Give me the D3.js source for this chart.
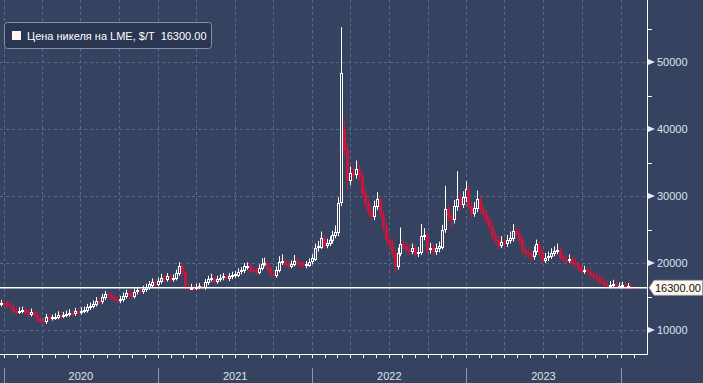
<!DOCTYPE html>
<html>
<head>
<meta charset="utf-8">
<script src="https://cdn.jsdelivr.net/npm/d3@7"></script>
<style>
  body { margin: 0; background: #354361; }
  text { font-family: "Liberation Sans", Arial, sans-serif; }
</style>
</head>
<body>
<div id="chart"></div>
<script>
// weekly LME nickel candles, first week ending 27 Dec 2019
var firstWeek = new Date(2019, 11, 27);

var opens = [
  13900,14100,14000,13700,13500,12900,12800,12900,13000,12700,12400,12700,12300,
  11600,11400,11300,11900,11800,11900,12000,12300,12200,12300,12400,12600,12500,
  12800,12700,12900,13000,13400,13600,13900,14400,14300,14900,15300,15200,14900,
  14600,14400,14600,15100,15500,15400,15100,15700,15900,15800,16100,16400,16800,
  17200,16900,17300,17800,17600,18000,17700,17800,18500,19500,18600,16400,16200,
  16300,16200,16400,16500,16400,17100,17600,17800,17300,17600,17800,18000,17700,
  18000,18200,18300,18700,18900,19500,19600,19000,18900,18700,19300,19900,20000,
  19200,18400,18200,19000,20200,20300,19800,19600,19900,20300,20000,19800,19600,
  19800,20200,20700,22300,22500,23800,22700,23000,23400,24200,24700,29000,40000,
  37000,32500,33500,33200,34000,33000,30500,29000,27800,27000,28500,29500,27200,
  25500,23500,23000,21500,19500,21500,22800,22500,22000,21800,22200,21500,21600,
  24000,24200,22000,22200,21700,22200,22500,25000,28000,27000,26500,28500,29500,
  28800,29800,31000,28500,27500,28200,29500,28000,27200,26500,25500,24200,23500,
  22800,23200,23000,23500,23800,24800,24500,23500,22000,21500,21300,21000,21800,
  22800,21500,20500,20800,21000,21500,21800,22000,21000,20500,20400,20600,20000,
  19800,19200,18800,18900,18700,18300,18000,17800,17300,17200,16800,16600,16700,
  16900,16400,16500,16700,16400,16500
];
var highs = [
  14500,14600,14400,14200,13900,13400,13400,13500,13400,13100,13200,13100,12700,
  12100,11900,12400,12400,12300,12500,12800,12700,12700,12900,13100,13000,13300,
  13200,13400,13500,13900,14100,14400,14900,14900,15400,15800,15900,15600,15300,
  15000,15100,15600,16000,16000,15800,16200,16400,16300,16600,16900,17300,17700,
  17600,17800,18400,18200,18500,18400,18300,19000,20100,20200,19000,16900,16900,
  16800,16900,17000,16900,17600,18100,18400,18200,18100,18300,18500,18400,18500,
  18700,18800,19200,19400,20000,20100,20000,19500,19300,19800,20700,20800,20400,
  19600,18800,19500,21000,21300,20700,20300,20400,21200,20800,20500,20300,20300,
  20700,21300,22900,23300,24700,24300,23600,24000,24800,25600,29800,55200,41300,
  37900,34400,34600,35300,34700,33600,31300,29700,28600,29300,30600,30100,27800,
  26100,24500,23700,22100,22300,25300,23600,23300,22700,22900,22800,22400,25800,
  25200,24700,23000,22800,22900,23200,25700,31500,28800,27700,29400,33700,30400,
  30700,32200,31700,29200,29100,30800,30100,28700,27900,27100,26100,24900,24100,
  24000,23900,24200,24700,25800,25600,25000,24000,22700,22200,21900,22500,23500,
  23400,22100,21500,21700,22200,22500,22900,22500,21600,21200,21300,21100,20700,
  20300,19800,19600,19500,19300,18900,18600,18300,18000,17700,17400,17300,17500,
  17400,17100,17200,17200,17000,16900
];
var lows = [
  13500,13500,13200,13000,12400,12300,12400,12500,12200,11900,12000,11800,11100,
  10900,10800,10900,11300,11400,11500,11600,11700,11800,11900,12000,12000,12100,
  12200,12300,12500,12600,13000,13200,13500,13800,13900,14500,14700,14400,14100,
  13900,14000,14200,14700,14900,14600,14700,15300,15300,15400,15700,16000,16400,
  16400,16500,16900,17100,17200,17200,17200,17400,18100,18100,16000,15900,16000,
  15900,16000,16100,16000,16000,16700,17200,16800,16900,17200,17400,17200,17300,
  17600,17800,17900,18300,18500,19000,18500,18400,18200,18300,18900,19500,18800,
  17900,17700,17800,18600,19700,19300,19100,19200,19500,19500,19200,19100,19200,
  19400,19800,20300,21700,22100,22100,22200,22500,22900,23700,24000,28500,36000,
  31000,31600,32200,32600,32200,29600,28200,27000,26200,26400,27900,26500,24700,
  22700,22300,20700,18400,19000,21000,21900,21400,21100,21300,20900,20900,21200,
  23400,21300,21400,21100,21200,21600,22000,24500,26100,25200,25900,27800,27900,
  28200,29100,27800,26600,26900,27600,27300,26500,25700,24800,23500,22800,22000,
  22200,22300,22400,22900,23200,23700,22800,21400,20800,20600,20300,20500,21200,
  20900,19900,20000,20300,20600,21000,21300,20500,20000,19900,20000,19500,19300,
  18700,18300,18400,18200,17800,17500,17300,16800,16700,16300,16100,16200,16300,
  16100,16200,16200,16000,16200,16000
];
var closes = [
  14100,14000,13700,13500,12900,12800,12900,13000,12700,12400,12700,12300,11600,
  11400,11300,11900,11800,11900,12000,12300,12200,12300,12400,12600,12500,12800,
  12700,12900,13000,13400,13600,13900,14400,14300,14900,15300,15200,14900,14600,
  14400,14600,15100,15500,15400,15100,15700,15900,15800,16100,16400,16800,17200,
  16900,17300,17800,17600,18000,17700,17800,18500,19500,18600,16400,16200,16300,
  16200,16400,16500,16400,17100,17600,17800,17300,17600,17800,18000,17700,18000,
  18200,18300,18700,18900,19500,19600,19000,18900,18700,19300,19900,20000,19200,
  18400,18200,19000,20200,20300,19800,19600,19900,20300,20000,19800,19600,19800,
  20200,20700,22300,22500,23800,22700,23000,23400,24200,24700,29000,48300,37000,
  32500,33500,33200,34000,33000,30500,29000,27800,27000,28500,29500,27200,25500,
  23500,23000,21500,19500,21500,22800,22500,22000,21800,22200,21500,21600,24000,
  24200,22000,22200,21700,22200,22500,25000,28000,27000,26500,28500,29500,28800,
  29800,31000,28500,27500,28200,29500,28000,27200,26500,25500,24200,23500,22800,
  23200,23000,23500,23800,24800,24500,23500,22000,21500,21300,21000,21800,22800,
  21500,20500,20800,21000,21500,21800,22000,21000,20500,20400,20600,20000,19800,
  19200,18800,18900,18700,18300,18000,17800,17300,17200,16800,16600,16700,16900,
  16400,16500,16700,16400,16500,16300
];

var lastPrice = 16300;
var yTicks = [10000, 20000, 30000, 40000, 50000];
var yMinor = [15000, 25000, 35000, 45000, 55000];
var years = ["2020", "2021", "2022", "2023"];
var legendLabel = "Цена никеля на LME, $/T  16300.00";

var width = 703, height = 383,
    plotRight = 647, plotBottom = 354;

var bg = "#354361", red = "#c8173d", grid = "#5a6b90";

var svg = d3.select("#chart")
  .append("svg")
    .attr("width", width)
    .attr("height", height);

svg.append("rect")
  .attr("width", width)
  .attr("height", height)
  .attr("fill", bg);

var x = d3.scaleTime()
  .domain([new Date(2020, 0, 1), new Date(2024, 0, 1)])
  .range([3.5, 620.5]);

var y = d3.scaleLinear()
  .domain([10000, 50000])
  .range([330, 62]);

// build candle rows
var data = closes.map(function(c, i) {
  return {
    date: d3.timeDay.offset(firstWeek, 7 * i),
    open: opens[i], high: highs[i], low: lows[i], close: c
  };
});

// grid
var quarters = d3.timeMonth.every(3).range(new Date(2020, 0, 1), new Date(2024, 0, 2));
svg.append("g")
  .selectAll("line")
  .data(quarters)
  .enter()
  .append("line")
    .attr("x1", function(d) { return Math.round(x(d)) + 0.5; })
    .attr("x2", function(d) { return Math.round(x(d)) + 0.5; })
    .attr("y1", 0)
    .attr("y2", plotBottom)
    .attr("stroke", grid)
    .attr("stroke-dasharray", "3,3");

svg.append("g")
  .selectAll("line")
  .data(yTicks)
  .enter()
  .append("line")
    .attr("x1", 0)
    .attr("x2", plotRight)
    .attr("y1", function(d) { return Math.round(y(d)) + 0.5; })
    .attr("y2", function(d) { return Math.round(y(d)) + 0.5; })
    .attr("stroke", grid)
    .attr("stroke-dasharray", "3,3");

// candles
svg.append("clipPath")
    .attr("id", "clip")
  .append("rect")
    .attr("width", plotRight)
    .attr("height", plotBottom);

var candles = svg.append("g")
  .attr("clip-path", "url(#clip)")
  .selectAll("g")
  .data(data)
  .enter()
  .append("g");

candles.append("line")
  .attr("x1", function(d) { return Math.round(x(d.date)) + 0.5; })
  .attr("x2", function(d) { return Math.round(x(d.date)) + 0.5; })
  .attr("y1", function(d) { return y(d.high); })
  .attr("y2", function(d) { return y(d.low); })
  .attr("stroke", function(d) { return d.close >= d.open ? "#ffffff" : red; })
  .attr("stroke-width", 1);

candles.append("rect")
  .attr("shape-rendering", "crispEdges")
  .attr("x", function(d) { return Math.round(x(d.date)) - 0.5; })
  .attr("width", 2)
  .attr("y", function(d) { return Math.round(y(Math.max(d.open, d.close))) + 0.5; })
  .attr("height", function(d) {
    return Math.max(1, Math.round(y(Math.min(d.open, d.close)) - y(Math.max(d.open, d.close))));
  })
  .attr("fill", function(d) { return d.close >= d.open ? bg : red; })
  .attr("stroke", function(d) { return d.close >= d.open ? "#ffffff" : red; })
  .attr("stroke-width", 1);

// last price line
svg.append("line")
  .attr("x1", 0)
  .attr("x2", plotRight)
  .attr("y1", y(lastPrice))
  .attr("y2", y(lastPrice))
  .attr("stroke", "#ffffff")
  .attr("stroke-width", 1.4);

// right axis
svg.append("line")
  .attr("x1", plotRight + 0.5).attr("x2", plotRight + 0.5)
  .attr("y1", 0).attr("y2", plotBottom + 1)
  .attr("stroke", "#ffffff");

var yAxis = svg.append("g");
yAxis.selectAll("path")
  .data(yTicks)
  .enter()
  .append("path")
    .attr("d", function(d) {
      var yy = y(d);
      return "M" + (plotRight + 1) + "," + (yy - 3) + "L" + (plotRight + 8) + "," + yy + "L" + (plotRight + 1) + "," + (yy + 3) + "Z";
    })
    .attr("fill", "#e8e8ee");
yAxis.selectAll("text")
  .data(yTicks)
  .enter()
  .append("text")
    .attr("x", plotRight + 10)
    .attr("y", function(d) { return y(d) + 4; })
    .attr("fill", "#dfe2ea")
    .style("font-size", "11px")
    .text(function(d) { return d; });
yAxis.selectAll("line")
  .data(yMinor)
  .enter()
  .append("line")
    .attr("x1", plotRight + 1)
    .attr("x2", plotRight + 5)
    .attr("y1", function(d) { return Math.round(y(d)) + 0.5; })
    .attr("y2", function(d) { return Math.round(y(d)) + 0.5; })
    .attr("stroke", "#ffffff");

// last price tag
var ly = y(lastPrice);
svg.append("path")
  .attr("d", "M" + (plotRight + 2) + "," + ly + "L" + (plotRight + 7) + "," + (ly - 7.5) +
    "L702.5," + (ly - 7.5) + "L702.5," + (ly + 7.5) + "L" + (plotRight + 7) + "," + (ly + 7.5) + "Z")
  .attr("fill", "#fff8ee")
  .attr("stroke", "#9aa0b0")
  .attr("stroke-width", 0.8);
svg.append("text")
  .attr("x", plotRight + 8)
  .attr("y", ly + 4)
  .attr("fill", "#111111")
  .style("font-size", "11px")
  .text(d3.format(".2f")(lastPrice));

// bottom axis
svg.append("line")
  .attr("x1", 0).attr("x2", plotRight + 1)
  .attr("y1", plotBottom + 0.5).attr("y2", plotBottom + 0.5)
  .attr("stroke", "#ffffff");

var months = d3.timeMonth.range(new Date(2020, 0, 1), new Date(2024, 1, 2));
svg.append("g")
  .selectAll("line")
  .data(months)
  .enter()
  .append("line")
    .attr("x1", function(d) { return Math.round(x(d)) + 0.5; })
    .attr("x2", function(d) { return Math.round(x(d)) + 0.5; })
    .attr("y1", plotBottom)
    .attr("y2", plotBottom + 4)
    .attr("stroke", "#ffffff");

var yearStarts = d3.timeYear.range(new Date(2020, 0, 1), new Date(2024, 0, 2));
svg.append("g")
  .selectAll("line")
  .data(yearStarts)
  .enter()
  .append("line")
    .attr("x1", function(d) { return Math.round(x(d)) + 0.5; })
    .attr("x2", function(d) { return Math.round(x(d)) + 0.5; })
    .attr("y1", 368)
    .attr("y2", height)
    .attr("stroke", "#8c95ab");

svg.append("g")
  .selectAll("text")
  .data(years)
  .enter()
  .append("text")
    .attr("x", function(d) {
      var yr = +d;
      return (x(new Date(yr, 0, 1)) + x(new Date(yr + 1, 0, 1))) / 2;
    })
    .attr("y", 380)
    .attr("text-anchor", "middle")
    .attr("fill", "#dfe2ea")
    .style("font-size", "11px")
    .text(function(d) { return d; });

// legend
var legend = svg.append("g");
legend.append("rect")
  .attr("x", 4.5).attr("y", 22.5)
  .attr("width", 207).attr("height", 26)
  .attr("rx", 3)
  .attr("fill", "#2a3652")
  .attr("stroke", "#8890a6");
legend.append("rect")
  .attr("x", 12).attr("y", 31)
  .attr("width", 9).attr("height", 9)
  .attr("fill", "#fff6f2");
legend.append("text")
  .attr("x", 27).attr("y", 40)
  .attr("fill", "#ffffff")
  .style("font-size", "11px")
  .style("white-space", "pre")
  .text(legendLabel);
</script>
</body>
</html>
